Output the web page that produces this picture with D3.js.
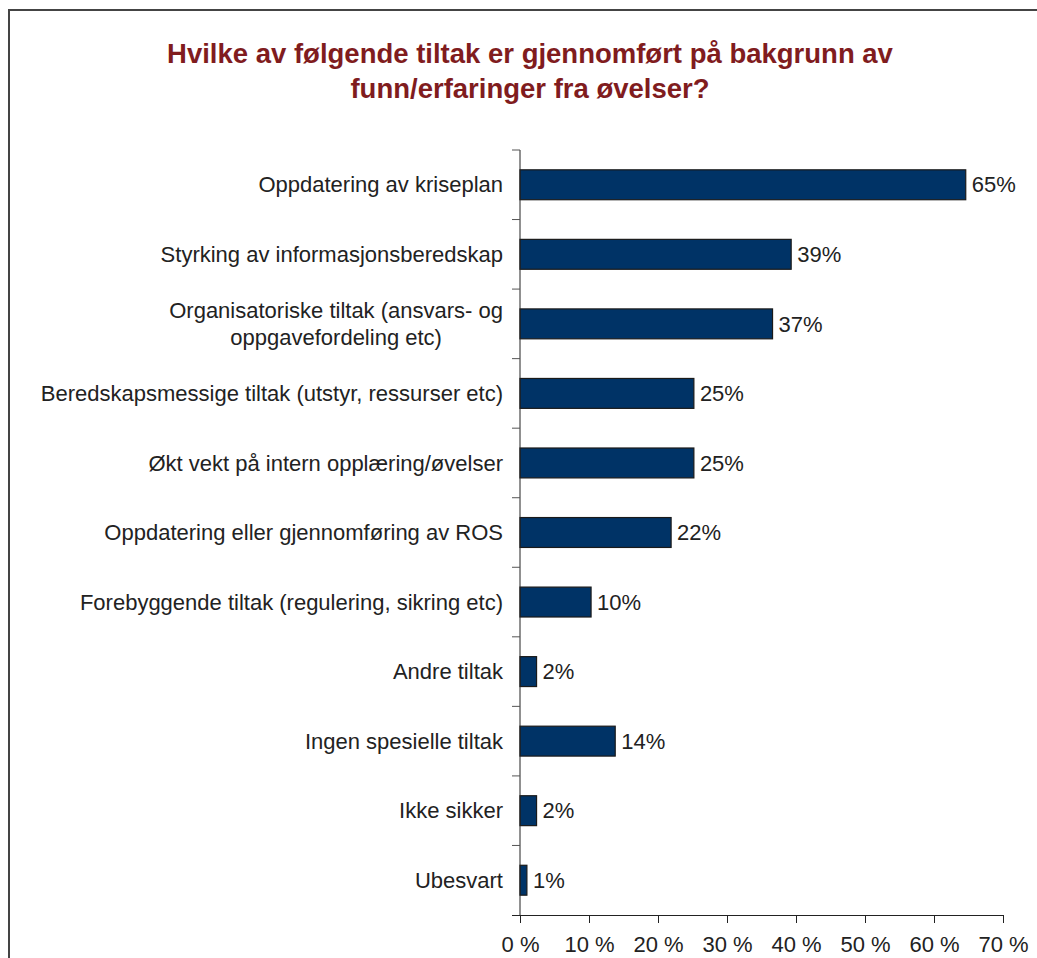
<!DOCTYPE html>
<meta charset="utf-8">
<style>
body { margin: 0; background: #fff; }
text { font-family: "Liberation Sans", Arial, sans-serif; }
</style>
<body>
<script src="https://d3js.org/d3.v7.min.js"></script>
<script>

// data
var categories = [
  "Oppdatering av kriseplan",
  "Styrking av informasjonsberedskap",
  "Organisatoriske tiltak (ansvars- og|oppgavefordeling etc)",
  "Beredskapsmessige tiltak (utstyr, ressurser etc)",
  "Økt vekt på intern opplæring/øvelser",
  "Oppdatering eller gjennomføring av ROS",
  "Forebyggende tiltak (regulering, sikring etc)",
  "Andre tiltak",
  "Ingen spesielle tiltak",
  "Ikke sikker",
  "Ubesvart"
];
var values = [64.6, 39.3, 36.6, 25.2, 25.2, 21.9, 10.3, 2.4, 13.8, 2.4, 1.0];
var valueLabels = ["65%", "39%", "37%", "25%", "25%", "22%", "10%", "2%", "14%", "2%", "1%"];
var xTicks = [0, 10, 20, 30, 40, 50, 60, 70];
var titleLines = ["Hvilke av følgende tiltak er gjennomført på bakgrunn av",
                  "funn/erfaringer fra øvelser?"];

var W = 1037, H = 958;
var margin = {top: 150, left: 520};

var svg = d3.select("body").append("svg")
    .attr("width", W)
    .attr("height", H);

// outer frame (only left and top edges are visible)
svg.append("path")
    .attr("d", "M9," + H + "V10H" + W)
    .attr("fill", "none")
    .attr("stroke", "#444")
    .attr("stroke-width", 2);

// title
svg.append("text")
    .attr("text-anchor", "middle")
    .attr("font-size", "27.5px")
    .attr("font-weight", "bold")
    .attr("fill", "#801c1e")
    .selectAll("tspan")
    .data(titleLines)
    .join("tspan")
      .attr("x", 530)
      .attr("y", function(d, i) { return 63 + i * 34.5; })
      .text(function(d) { return d; });

var g = svg.append("g")
    .attr("transform", "translate(" + margin.left + "," + margin.top + ")");

var x = d3.scaleLinear().domain([0, 70]).range([0, 483]);
var y = d3.scaleBand().domain(d3.range(categories.length)).range([0, 765])
    .paddingInner(0.57).paddingOuter(0.285);
var step = y.step();

// bars
g.selectAll("rect.bar")
  .data(values)
  .join("rect")
    .attr("class", "bar")
    .attr("x", x(0))
    .attr("y", function(d, i) { return y(i); })
    .attr("width", function(d) { return x(d) - x(0); })
    .attr("height", y.bandwidth())
    .attr("fill", "#003366")
    .attr("stroke", "#1a1a1a")
    .attr("stroke-width", 1.2);

// value labels
g.selectAll("text.val")
  .data(values)
  .join("text")
    .attr("class", "val")
    .attr("x", function(d) { return x(d) + 6; })
    .attr("y", function(d, i) { return y(i) + y.bandwidth() / 2; })
    .attr("dy", "0.35em")
    .attr("font-size", "22px")
    .attr("fill", "#222")
    .text(function(d, i) { return valueLabels[i]; });

// y axis: line plus tick marks at band boundaries
g.append("line")
    .attr("x1", 0).attr("x2", 0)
    .attr("y1", 0).attr("y2", 765)
    .attr("stroke", "#222");
g.selectAll("line.ytick")
  .data(d3.range(categories.length))
  .join("line")
    .attr("class", "ytick")
    .attr("x1", -8).attr("x2", 0)
    .attr("y1", function(i) { return i * step; })
    .attr("y2", function(i) { return i * step; })
    .attr("stroke", "#555");

// category labels (multi-line block right-aligned, lines centred)
g.selectAll("text.cat")
  .data(categories)
  .join("text")
    .attr("class", "cat")
    .attr("font-size", "22px")
    .attr("fill", "#222")
    .each(function(d, i) {
      var lines = d.split("|");
      var t = d3.select(this);
      var cy = y(i) + y.bandwidth() / 2;
      var lh = 27;
      lines.forEach(function(l, k) {
        t.append("tspan")
          .attr("y", cy + (k - (lines.length - 1) / 2) * lh)
          .attr("dy", "0.35em")
          .text(l);
      });
      if (lines.length === 1) {
        t.attr("text-anchor", "end");
        t.selectAll("tspan").attr("x", -17);
      } else {
        var maxw = 0;
        t.selectAll("tspan").each(function() { maxw = Math.max(maxw, this.getComputedTextLength()); });
        t.attr("text-anchor", "middle");
        t.selectAll("tspan").attr("x", -17 - maxw / 2);
      }
    });

// x axis
var xAxis = g.append("g")
    .attr("transform", "translate(0,765)")
    .call(d3.axisBottom(x).tickValues(xTicks).tickSize(8).tickPadding(13)
      .tickFormat(function(d) { return d + " %"; }));
xAxis.select(".domain").attr("stroke", "#222").attr("d", "M-8,0.5H483");
xAxis.selectAll(".tick line").attr("stroke", "#222");
xAxis.selectAll(".tick text")
    .attr("font-size", "22px")
    .attr("font-family", "'Liberation Sans', Arial, sans-serif")
    .attr("fill", "#222");

</script>
</body>
